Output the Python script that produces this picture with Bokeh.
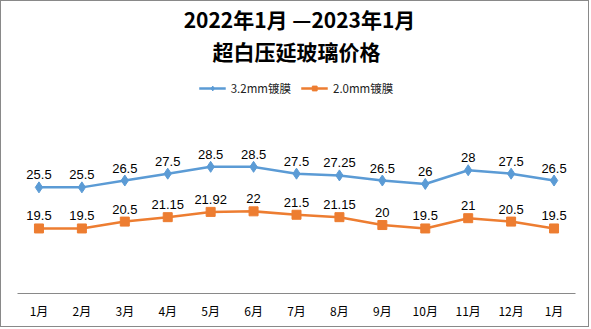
from bokeh.plotting import figure
from bokeh.models import Range1d, Legend, LegendItem, FixedTicker, ColumnDataSource, Title
from bokeh.core.properties import value
from bokeh.embed import file_html
from bokeh.resources import INLINE

months = ["1月", "2月", "3月", "4月", "5月", "6月", "7月", "8月", "9月", "10月", "11月", "12月", "1月"]
s32 = [25.5, 25.5, 26.5, 27.5, 28.5, 28.5, 27.5, 27.25, 26.5, 26, 28, 27.5, 26.5]
s20 = [19.5, 19.5, 20.5, 21.15, 21.92, 22, 21.5, 21.15, 20, 19.5, 21, 20.5, 19.5]
series_names = ["3.2mm镀膜", "2.0mm镀膜"]
title_lines = ["2022年1月 —2023年1月", "超白压延玻璃价格"]

BLUE = "#5B9BD5"
ORANGE = "#ED7D31"
CJK = "Noto Sans CJK SC"

xs = list(range(len(months)))
p = figure(width=589, height=327, output_backend="svg", toolbar_location=None,
           x_range=Range1d(-0.5, len(months) - 0.5), y_range=Range1d(10, 43.3),
           min_border_left=16, min_border_right=15, min_border_bottom=35, min_border_top=0)
p.styles = {"border": "1px solid #898989"}
p.outline_line_color = None
p.grid.visible = False
p.yaxis.visible = False
p.title = None

p.add_layout(Title(text=title_lines[1], align="center", text_font=CJK, text_font_size="21px",
                   text_font_style="bold", text_color="black", standoff=0, offset=0), "above")
p.add_layout(Title(text=title_lines[0], align="center", text_font=CJK, text_font_size="21px",
                   text_font_style="bold", text_color="black", standoff=0, offset=0,
                   padding=(6, 0, 0, 0)), "above")

src1 = ColumnDataSource(dict(x=xs, y=s32, t=[f"{v:g}" for v in s32]))
src2 = ColumnDataSource(dict(x=xs, y=s20, t=[f"{v:g}" for v in s20]))

l1 = p.line("x", "y", source=src1, line_color=BLUE, line_width=2.5)
m1 = p.scatter("x", "y", source=src1, marker="diamond", size=11, fill_color=BLUE, line_color=BLUE)
l2 = p.line("x", "y", source=src2, line_color=ORANGE, line_width=2.5)
m2 = p.scatter("x", "y", source=src2, marker="square", size=9, fill_color=ORANGE, line_color=ORANGE)

for src in (src1, src2):
    p.text("x", "y", text="t", source=src, y_offset=-8, text_align="center", text_baseline="bottom",
           text_font=value("Liberation Sans"), text_font_size="13px", text_color="black")

legend = Legend(items=[LegendItem(label=series_names[0], renderers=[l1, m1]),
                       LegendItem(label=series_names[1], renderers=[l2, m2])],
                orientation="horizontal", location="top_center", border_line_color=None,
                label_text_font=CJK, label_text_font_size="11.5px", label_text_color="#222222",
                glyph_width=27, glyph_height=12, spacing=10, padding=2, margin=15,
                label_standoff=5, background_fill_alpha=0)
p.add_layout(legend, "center")

ax = p.xaxis[0]
ax.ticker = FixedTicker(ticks=xs)
ax.major_label_overrides = {i: m for i, m in enumerate(months)}
ax.axis_line_color = "#898989"
ax.axis_line_width = 1
ax.major_tick_line_color = None
ax.minor_tick_line_color = None
ax.major_label_text_font = CJK
ax.major_label_text_font_size = "12px"
ax.major_label_text_color = "black"
ax.major_label_standoff = 2

open("out.html", "w").write(file_html(p, INLINE))
